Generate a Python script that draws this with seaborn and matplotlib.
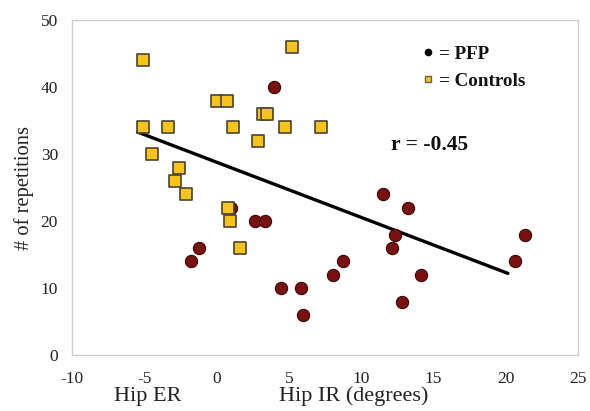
import matplotlib
matplotlib.use("Agg")
import matplotlib.pyplot as plt
from matplotlib.lines import Line2D
import seaborn as sns
import pandas as pd

# ---- data ----
pfp_x = [3.96, 1.0, 2.64, 3.33, -1.25, -1.74, 8.75, 8.05, 4.44, 5.83, 5.97,
         11.5, 13.2, 12.3, 12.1, 14.1, 12.85, 21.3, 20.6]
pfp_y = [40, 22, 20, 20, 16, 14, 14, 12, 10, 10, 6,
         24, 22, 18, 16, 12, 8, 18, 14]

ctrl_x = [-5.07, 5.2, 0.0, 0.7, 3.2, 3.5, -5.07, -3.33, 1.1, 4.7, 7.2,
          2.85, -4.44, -2.57, -2.85, -2.15, 0.76, 0.9, 1.6]
ctrl_y = [44, 46, 38, 38, 36, 36, 34, 34, 34, 34, 34,
          32, 30, 28, 26, 24, 22, 20, 16]

trend_x = [-5.47, 20.14]
trend_y = [33.3, 12.2]

x_ticks = [-10, -5, 0, 5, 10, 15, 20, 25]
y_ticks = [0, 10, 20, 30, 40, 50]

legend_labels = ["= PFP", "= Controls"]
r_text = "r = -0.45"
y_label = "# of repetitions"
x_label_left = "Hip ER"
x_label_right = "Hip IR (degrees)"

pfp_df = pd.DataFrame({"x": pfp_x, "y": pfp_y})
ctrl_df = pd.DataFrame({"x": ctrl_x, "y": ctrl_y})
trend_df = pd.DataFrame({"x": trend_x, "y": trend_y})

sns.set_theme(style="white")
plt.rcParams["font.family"] = ["Liberation Serif", "DejaVu Serif"]

fig = plt.figure(figsize=(5.9, 4.11), dpi=100)
ax = fig.add_axes([0.122, 0.136, 0.858, 0.815])

sns.lineplot(data=trend_df, x="x", y="y", ax=ax, color="black", lw=2.4, zorder=2)
sns.scatterplot(data=pfp_df, x="x", y="y", ax=ax, marker="o", s=78,
                color="#7a1010", edgecolor="#3a0808", linewidth=0.8, zorder=3)
sns.scatterplot(data=ctrl_df, x="x", y="y", ax=ax, marker="s", s=66,
                color="#f7c419", edgecolor="#4a4232", linewidth=1.2, zorder=4)

ax.set_xlim(-10, 25)
ax.set_ylim(0, 50)
ax.set_xticks(x_ticks)
ax.set_yticks(y_ticks)
ax.set_xticklabels([str(t) for t in x_ticks])
ax.set_yticklabels([str(t) for t in y_ticks])
ax.tick_params(axis="both", which="both", labelsize=12.5,
               length=4, width=0.8, direction="out")
ax.tick_params(axis="x", colors="#bbbbbb", labelcolor="#222222", pad=7.5)
ax.tick_params(axis="y", colors="#bbbbbb", labelcolor="#222222", pad=6)
for sp in ax.spines.values():
    sp.set_color("#cfcfcf")
    sp.set_linewidth(1.0)
    sp.set_visible(True)

ax.set_xlabel("")
ax.set_ylabel(y_label, fontsize=14.8, color="#222222", labelpad=5)

fig.text(148 / 590, 1 - 396 / 411, x_label_left, fontsize=16, ha="center",
         va="center", color="#222222")
fig.text(354 / 590, 1 - 396 / 411, x_label_right, fontsize=16, ha="center",
         va="center", color="#222222")

handles = [
    Line2D([0], [0], marker="o", color="none", markerfacecolor="black",
           markeredgecolor="black", markersize=4.5),
    Line2D([0], [0], marker="s", color="none", markerfacecolor="#f7c419",
           markeredgecolor="#6a6040", markersize=5),
]
leg = ax.legend(handles, legend_labels, loc="center left",
                bbox_to_anchor=(0.692, 0.858), frameon=False,
                borderpad=0, borderaxespad=0,
                handlelength=0.6, handletextpad=0.3, labelspacing=0.5,
                prop={"weight": "bold", "size": 13.7})
for t in leg.get_texts():
    t.set_color("#111111")

ax.text(0.630, 0.627, r_text, transform=ax.transAxes, fontsize=15.5,
        fontweight="bold", ha="left", va="center", color="#111111")

fig.savefig("out.png", dpi=100, facecolor="white")
